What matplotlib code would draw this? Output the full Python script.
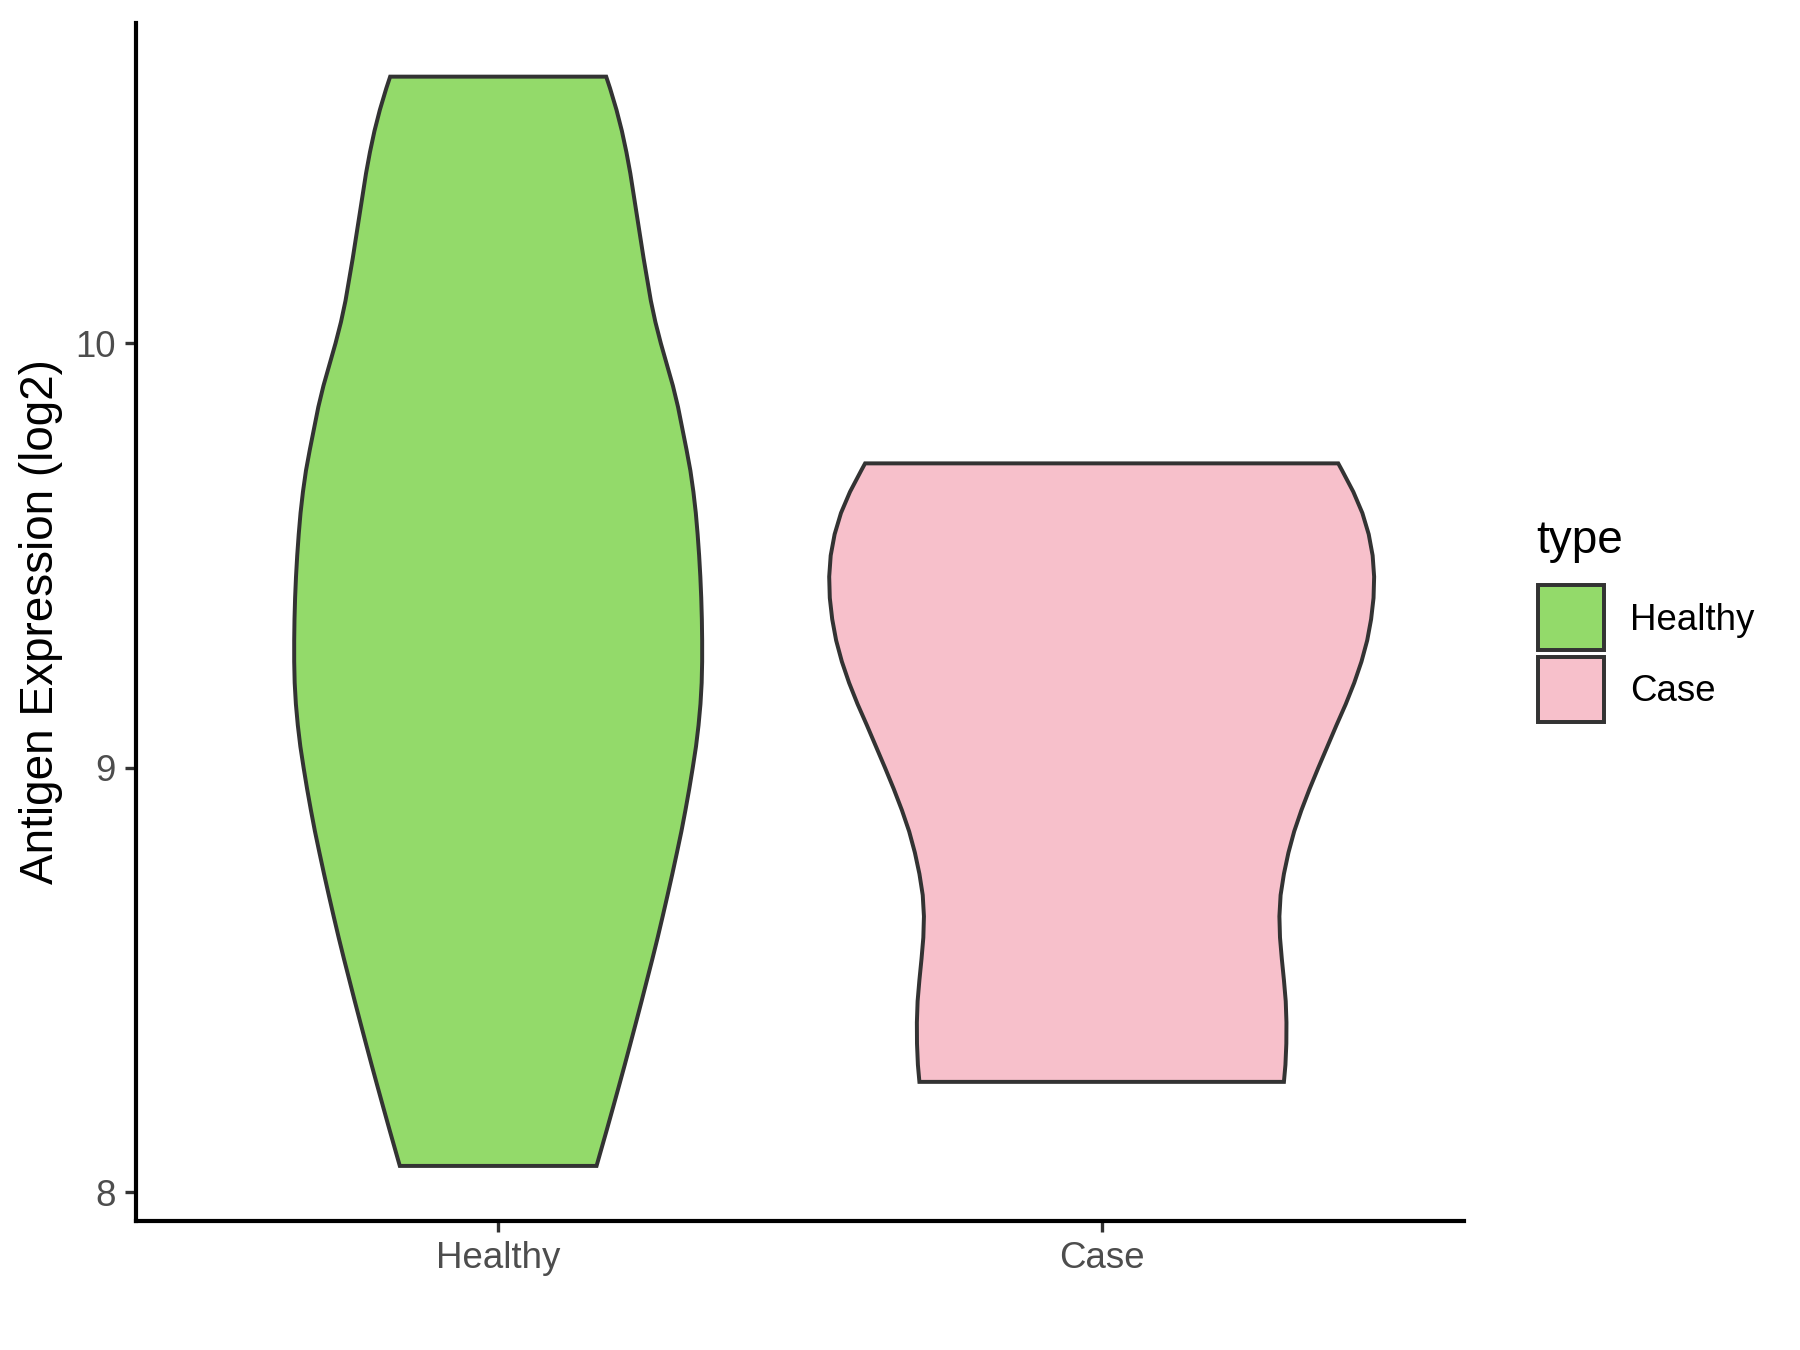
import numpy as np
import matplotlib
matplotlib.use("Agg")
import matplotlib.pyplot as plt
from matplotlib.patches import Rectangle

plt.rcParams['font.family'] = ['Liberation Sans', 'DejaVu Sans']

# ---- data ----
categories = ["Healthy", "Case"]
fill_colors = ["#93DA6A", "#F7C0CB"]
legend_title = "type"
y_label = "Antigen Expression (log2)"
y_ticks = [8, 9, 10]

# violin outlines: value levels and half-widths (in category units)
healthy_vals = [8.062, 8.10, 8.15, 8.20, 8.25, 8.30, 8.35, 8.40, 8.45, 8.50,
                8.55, 8.60, 8.65, 8.70, 8.75, 8.80, 8.85, 8.90, 8.95, 9.00,
                9.05, 9.10, 9.15, 9.20, 9.25, 9.30, 9.35, 9.40, 9.45, 9.50,
                9.55, 9.60, 9.65, 9.70, 9.75, 9.80, 9.85, 9.90, 9.95, 10.00,
                10.05, 10.10, 10.15, 10.20, 10.25, 10.30, 10.35, 10.40, 10.45,
                10.50, 10.55, 10.60, 10.628]
healthy_hw = [0.163, 0.1706, 0.1806, 0.1904, 0.2001, 0.2097, 0.2191, 0.2284,
              0.2376, 0.2466, 0.2556, 0.2643, 0.2726, 0.2807, 0.2886, 0.2962,
              0.3036, 0.3103, 0.3166, 0.3224, 0.3278, 0.3320, 0.3352, 0.3372,
              0.3380, 0.3380, 0.3375, 0.3365, 0.3350, 0.3330, 0.3305, 0.3275,
              0.3235, 0.3185, 0.3120, 0.3050, 0.2980, 0.2895, 0.2795, 0.2695,
              0.2605, 0.2530, 0.2470, 0.2410, 0.2355, 0.2300, 0.2245, 0.2190,
              0.2125, 0.2050, 0.1960, 0.1855, 0.1790]

case_vals = [8.26, 8.30, 8.35, 8.40, 8.45, 8.50, 8.55, 8.60, 8.65, 8.70, 8.75,
             8.80, 8.85, 8.90, 8.95, 9.00, 9.05, 9.10, 9.15, 9.20, 9.25, 9.30,
             9.35, 9.40, 9.45, 9.50, 9.55, 9.60, 9.65, 9.70, 9.717]
case_hw = [0.302, 0.3045, 0.306, 0.3062, 0.305, 0.302, 0.2985, 0.2955, 0.2945,
           0.2965, 0.302, 0.3095, 0.319, 0.331, 0.3445, 0.359, 0.374, 0.389,
           0.4045, 0.4185, 0.4305, 0.4400, 0.4465, 0.4505, 0.4515, 0.449,
           0.4425, 0.432, 0.417, 0.3985, 0.392]

profiles = [(healthy_vals, healthy_hw), (case_vals, case_hw)]

# ---- figure ----
fig = plt.figure(figsize=(6, 4.5), dpi=300)
ax = fig.add_axes([0.0756, 0.0956, 0.8132 - 0.0756, 0.983 - 0.0956])

edge = "#333333"
for i, ((vals, hw), col) in enumerate(zip(profiles, fill_colors)):
    c = i + 1
    v = np.asarray(vals)
    w = np.asarray(hw)
    xs = np.concatenate([c - w, (c + w)[::-1]])
    ys = np.concatenate([v, v[::-1]])
    ax.fill(xs, ys, facecolor=col, edgecolor=edge, linewidth=0.95,
            joinstyle='miter', zorder=2)

ax.set_xlim(0.4, 2.6)
ax.set_ylim(7.9324, 10.7545)
ax.set_xticks([1, 2])
ax.set_xticklabels(categories)
ax.set_yticks(y_ticks)
ax.set_yticklabels([str(t) for t in y_ticks])

for s in ["top", "right"]:
    ax.spines[s].set_visible(False)
for s in ["left", "bottom"]:
    ax.spines[s].set_linewidth(1.0)
    ax.spines[s].set_color("black")
    ax.spines[s].set_capstyle("projecting")

ax.tick_params(axis="both", length=2.6, width=0.8, color="#333333",
               labelcolor="#4D4D4D", labelsize=8.8, pad=2.2)

fig.text(0.0228, (0.0956 + 0.983) / 2, y_label, rotation=90, ha="center",
         va="center", fontsize=11, color="black")

# legend (drawn manually)
fig.text(0.8533, 0.5995, legend_title, ha="left", va="center", fontsize=11,
         color="black")
key_x, key_w, key_h = 0.8544, 0.0367, 0.0478
key_y = [0.5185, 0.4652]
label_y = [0.5407, 0.4881]
for col, ky, ly, name in zip(fill_colors, key_y, label_y, categories):
    fig.add_artist(Rectangle((key_x, ky), key_w, key_h, transform=fig.transFigure,
                             facecolor=col, edgecolor=edge, linewidth=0.95))
    fig.text(0.9056, ly, name, ha="left", va="center", fontsize=8.8,
             color="black")

fig.savefig("out.png", dpi=300, facecolor="white")
